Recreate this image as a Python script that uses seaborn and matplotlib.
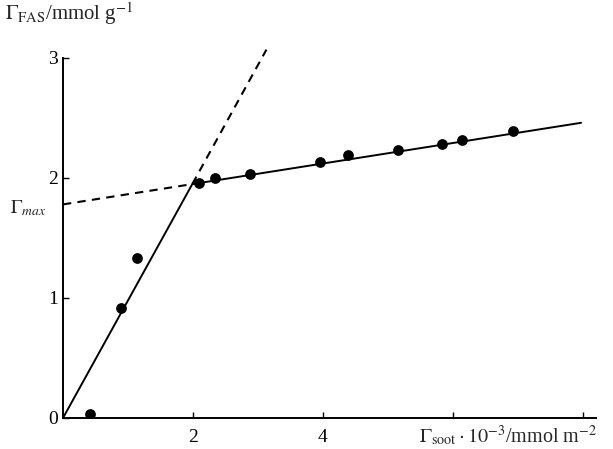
import matplotlib
matplotlib.use("Agg")
import matplotlib.pyplot as plt
import seaborn as sns
import numpy as np
import pandas as pd

# Data
soot = [0.42, 0.89, 1.14, 2.09, 2.34, 2.88, 3.95, 4.38, 5.15, 5.83, 6.14, 6.92]
fas = [0.03, 0.92, 1.33, 1.96, 2.00, 2.03, 2.13, 2.19, 2.23, 2.28, 2.32, 2.39]

# fitted lines
steep_x_solid = [0.0, 1.99]
steep_y_solid = [0.0, 1.95]
steep_x_dash = [1.99, 3.13]
steep_y_dash = [1.95, 3.07]
plat_x_dash = [0.0, 2.0]
plat_y_dash = [1.78, 1.95]
plat_x_solid = [2.0, 7.97]
plat_y_solid = [1.95, 2.46]

gamma_max = 1.78
yticks = [0, 1, 2, 3]
xticks = [2, 4, 6, 8]
xticklabels = ["2", "4", "", ""]

sns.set_style("ticks")
plt.rcParams['font.family'] = ['Liberation Serif', 'DejaVu Serif']
plt.rcParams['mathtext.fontset'] = 'stix'

fig = plt.figure(figsize=(6.13, 4.49), dpi=100)
ax = fig.add_axes([63/613, 31/449, 533/613, 360/449])

df = pd.DataFrame({"soot": soot, "fas": fas})
sns.scatterplot(data=df, x="soot", y="fas", ax=ax, color="black", s=60,
                edgecolor="black", linewidth=0, zorder=5)

sns.lineplot(x=steep_x_solid, y=steep_y_solid, ax=ax, color="black", lw=1.4)
sns.lineplot(x=plat_x_solid, y=plat_y_solid, ax=ax, color="black", lw=1.4)
sns.lineplot(x=steep_x_dash, y=steep_y_dash, ax=ax, color="black", lw=1.5,
             linestyle=(0, (4, 3)))
sns.lineplot(x=plat_x_dash, y=plat_y_dash, ax=ax, color="black", lw=1.5,
             linestyle=(0, (4, 3)))
for ln in ax.lines:
    ln.set_clip_on(False)

ax.set_xlim(0, 8.2)
ax.set_ylim(0, 3)
ax.set_xticks(xticks)
ax.set_xticklabels(xticklabels)
ax.set_yticks(yticks)
ax.set_yticklabels([str(v) for v in yticks])
ax.tick_params(direction="in", length=4, width=1, labelsize=14, colors="black")
ax.tick_params(axis="x", pad=8)
ax.set_xlabel("")
ax.set_ylabel("")
for side in ["top", "right"]:
    ax.spines[side].set_visible(False)
for side in ["left", "bottom"]:
    ax.spines[side].set_linewidth(1.4)
    ax.spines[side].set_color("black")

fig.text(5/613, 1 - 20/449, r'$\Gamma_{\mathrm{FAS}}$/mmol g$^{-1}$', fontsize=15,
         ha="left", va="baseline")
fig.text(10/613, 1 - 208/449, r'$\Gamma_{max}$', fontsize=14, ha="left", va="center")
fig.text(597/613, 1 - 436/449, r'$\Gamma_{\mathrm{soot}}\cdot 10^{-3}$/mmol m$^{-2}$',
         fontsize=14.5, ha="right", va="center")

fig.savefig("out.png", dpi=100, facecolor="white")
